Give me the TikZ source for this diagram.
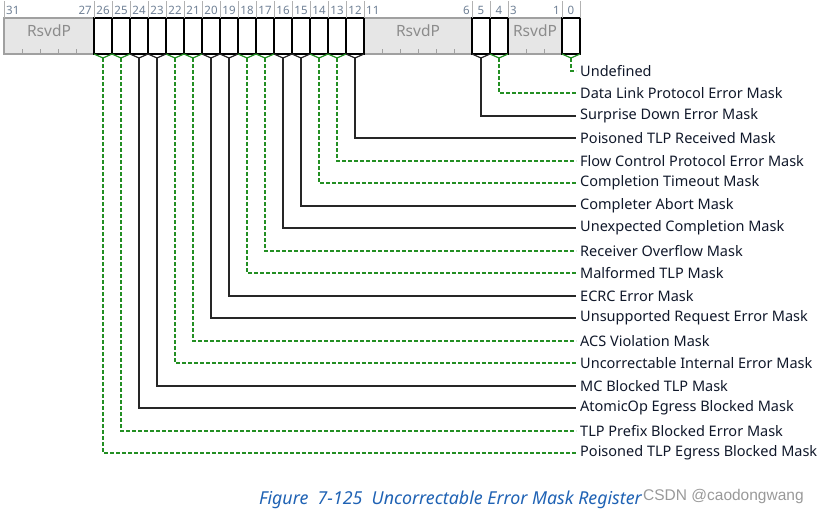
\documentclass[tikz,border=0pt]{standalone}
\usepackage{fontspec}
\setmainfont{Noto Sans}
\newfontfamily\wmfont{Liberation Sans}
\usetikzlibrary{positioning}

\definecolor{maskgreen}{HTML}{238F23}
\definecolor{bitgray}{HTML}{6F8095}
\definecolor{rsvdfill}{HTML}{E6E6E6}
\definecolor{rsvdline}{HTML}{A0A0A0}
\definecolor{capblue}{HTML}{1F62B4}
\definecolor{labeltext}{HTML}{10182A}

\tikzset{
  bitcell/.style={draw=black, line width=1.2pt},
  rsvdcell/.style={fill=rsvdfill, draw=rsvdline, line width=1.2pt},
  bitnum/.style={font=\fontsize{11.5}{12}\selectfont, text=bitgray, inner sep=1pt},
  rsvdtext/.style={font=\fontsize{15.5}{16}\selectfont, text=black!45},
  masklabel/.style={anchor=west, inner sep=4pt, font=\fontsize{14.5}{16}\selectfont, text=labeltext},
  blacklink/.style={draw=black!85, line width=1.3pt},
  greenlink/.style={draw=maskgreen, line width=1.4pt, dash pattern=on 4pt off 2pt},
}

\begin{document}
\begin{tikzpicture}[x=1pt, y=-1pt]
\useasboundingbox (0,0) rectangle (822,515);

% Reservierte Felder
\draw[rsvdcell] (4,18) rectangle (94,54);
\draw[rsvdcell] (364,18) rectangle (472,54);
\draw[rsvdcell] (508,18) rectangle (562,54);
\foreach \x in {22,40,58,76,382,400,418,436,454,526,544}
  \draw[rsvdline, line width=0.9pt] (\x,54) -- (\x,49);
\node[rsvdtext] (rsvd31) at (49,31) {RsvdP};
\node[rsvdtext] (rsvd11) at (418,31) {RsvdP};
\node[rsvdtext] (rsvd3) at (535,31) {RsvdP};

% Einzelbits
\foreach \b in {26,25,...,12,5,4,0} {
  \pgfmathsetmacro\xl{4+(31-\b)*18}
  \draw[bitcell] (\xl,18) rectangle ++(18,36);
  \node[bitnum] (num\b) at (\xl+9,10) {\b};
}

% Bitnummern der Felder
\foreach \x in {4,94,112,...,364,472,490,508,562,580}
  \draw[black!30, line width=0.9pt] (\x,1) -- (\x,18);
\node[bitnum, anchor=west] (num31) at (5,10) {31};
\node[bitnum, anchor=east] (num27) at (93,10) {27};
\node[bitnum, anchor=west] (num11) at (365,10) {11};
\node[bitnum, anchor=east] (num6) at (471,10) {6};
\node[bitnum, anchor=west] (num3) at (509,10) {3};
\node[bitnum, anchor=east] (num1) at (561,10) {1};

% Beschriftung
\foreach \b/\txt/\lk [count=\i from 0] in {
    0/Undefined/greenlink,
    4/Data Link Protocol Error Mask/greenlink,
    5/Surprise Down Error Mask/blacklink,
    12/Poisoned TLP Received Mask/blacklink,
    13/Flow Control Protocol Error Mask/greenlink,
    14/Completion Timeout Mask/greenlink,
    15/Completer Abort Mask/blacklink,
    16/Unexpected Completion Mask/blacklink,
    17/Receiver Overflow Mask/greenlink,
    18/Malformed TLP Mask/greenlink,
    19/ECRC Error Mask/blacklink,
    20/Unsupported Request Error Mask/blacklink,
    21/ACS Violation Mask/greenlink,
    22/Uncorrectable Internal Error Mask/greenlink,
    23/MC Blocked TLP Mask/blacklink,
    24/AtomicOp Egress Blocked Mask/blacklink,
    25/TLP Prefix Blocked Error Mask/greenlink,
    26/Poisoned TLP Egress Blocked Mask/greenlink} {
  \pgfmathsetmacro\xc{13+(31-\b)*18}
  \pgfmathsetmacro\yl{round(71+\i*22.47)}
  \coordinate (tip\b) at (\xc,58);
  \node[masklabel] (lbl\b) at (576,\yl) {\txt};
  \draw[\lk, solid, line width=1.2pt] (\xc-9,54) -- (tip\b) -- (\xc+9,54);
  \draw[\lk] (tip\b) |- (lbl\b.west);
}

% Bildunterschrift
\node[font=\fontsize{17.8}{18}\selectfont\itshape, text=capblue, anchor=east, inner sep=0pt] (caption) at (642,500)
  {Figure\ \ 7-125\ \ Uncorrectable Error Mask Register};
\node[font=\wmfont\fontsize{15.5}{16}\selectfont, text=black!40, anchor=west, inner sep=0pt] (wmark) at (643,496)
  {CSDN @caodongwang};
\end{tikzpicture}
\end{document}
